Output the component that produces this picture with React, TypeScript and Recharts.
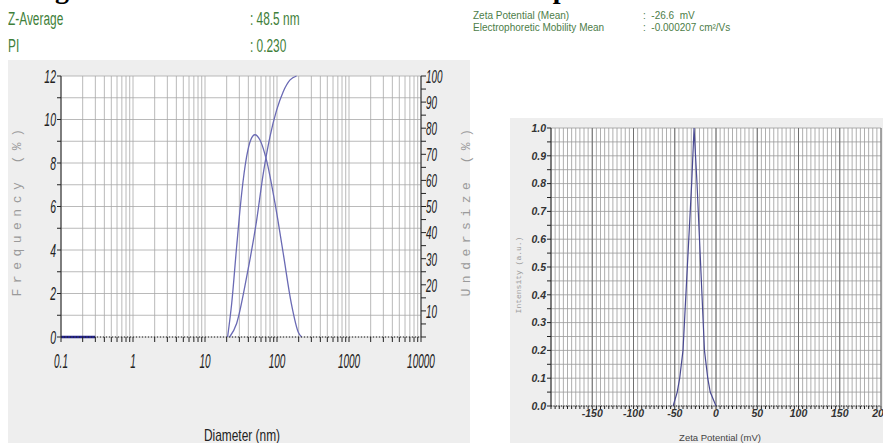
import {
  CartesianGrid,
  Line,
  LineChart,
  ReferenceLine,
  XAxis,
  YAxis,
} from "recharts";

// size distribution (left panel)
const diameterNm = [20.6, 23.5, 27.5, 32.3, 37.9, 43, 49.4, 58, 71.9, 93.8, 122, 158, 200, 220];
const frequencyPct = [0, 1.55, 4.15, 6.6, 8.3, 9.05, 9.3, 9.06, 8.1, 6.15, 3.85, 1.55, 0.18, 0];

const undersizeNm = [22, 27.5, 37.9, 52.2, 64.5, 79.8, 99, 122, 152, 187];
const undersizePct = [0, 5.2, 23, 44.8, 62.7, 76.7, 87, 94, 98.5, 100];

const baselineNm = [0.1, 0.3];
const baselinePct = [0, 0];

const diameterLabels = [0.1, 1, 10, 100, 1000, 10000];
const frequencyLabels = [0, 2, 4, 6, 8, 10, 12];
const undersizeLabels = [10, 20, 30, 40, 50, 60, 70, 80, 90, 100];

// zeta potential (right panel)
const zetaMv = [-52, -47, -44, -40, -33, -29.5, -26.6, -23, -20, -14, -10, -7, 0];
const intensity = [0, 0.05, 0.1, 0.2, 0.6, 0.8, 1.0, 0.8, 0.6, 0.2, 0.1, 0.05, 0];

const zetaLabels = [-150, -100, -50, 0, 50, 100, 150, 200];
const intensityLabels = [0, 0.1, 0.2, 0.3, 0.4, 0.5, 0.6, 0.7, 0.8, 0.9, 1.0];

const diameterTicks = [0.1, 1, 10, 100, 1000]
  .flatMap((d) => [1, 2, 3, 4, 5, 6, 7, 8, 9].map((m) => +(d * m).toPrecision(3)))
  .concat([10000]);
const frequencyTicks = Array.from({ length: 13 }, (_, i) => i);
const undersizeTicks = Array.from({ length: 21 }, (_, i) => i * 5);
const zetaTicks = Array.from({ length: 81 }, (_, i) => -200 + i * 5);
const intensityTicks = Array.from({ length: 21 }, (_, i) => Math.round(i * 5) / 100);

const freqData = diameterNm.map((d, i) => ({ d, v: frequencyPct[i] }));
const underData = undersizeNm.map((d, i) => ({ d, v: undersizePct[i] }));
const baseData = baselineNm.map((d, i) => ({ d, v: baselinePct[i] }));
const zetaData = zetaMv.map((z, i) => ({ z, v: intensity[i] }));

const sans = "'Liberation Sans', Arial, sans-serif";
const green = "#3f7f3a";
const curve = "#6a6ab4";

// condensed tick label, the instrument software uses a very narrow face
function narrowTick(labels: number[], fontSize: number, squeeze: number, dy: string) {
  return (props: any) => {
    const { x, y, payload, textAnchor } = props;
    if (!labels.includes(payload.value)) return <g />;
    return (
      <text
        transform={`translate(${x},${y}) scale(${squeeze},1)`}
        textAnchor={textAnchor}
        dy={dy}
        fill="#222"
        fontSize={fontSize}
        fontFamily={sans}
        fontStyle="italic"
      >
        {payload.value}
      </text>
    );
  };
}

const abs = (left: number, top: number): React.CSSProperties => ({
  position: "absolute",
  left,
  top,
  whiteSpace: "nowrap",
});

const header = (left: number, top: number): React.CSSProperties => ({
  ...abs(left, top),
  fontFamily: sans,
  fontSize: 18,
  color: green,
  transform: "scaleX(0.66)",
  transformOrigin: "left top",
});

export default function App() {
  return (
    <div
      style={{
        position: "absolute",
        left: 0,
        top: 0,
        width: 883,
        height: 443,
        overflow: "hidden",
        background: "#fff",
        fontFamily: sans,
      }}
    >
      <div
        style={{
          ...abs(30, -27),
          fontFamily: "'Liberation Serif', serif",
          fontWeight: "bold",
          fontSize: 28,
          color: "#000",
        }}
      >
        Figure 2: Particle size distribution and zeta potential of the formulation
      </div>

      <div style={header(8, 9)}>Z-Average</div>
      <div style={header(8, 36)}>PI</div>
      <div style={header(250, 9)}>: 48.5 nm</div>
      <div style={header(250, 36)}>: 0.230</div>

      <div style={{ ...abs(473, 10), fontSize: 10, color: "#4d7d48" }}>Zeta Potential (Mean)</div>
      <div style={{ ...abs(473, 22), fontSize: 10, color: "#4d7d48" }}>Electrophoretic Mobility Mean</div>
      <div style={{ ...abs(643, 10), fontSize: 10, color: "#4d7d48" }}>:&nbsp; -26.6&nbsp; mV</div>
      <div style={{ ...abs(643, 22), fontSize: 10, color: "#4d7d48" }}>:&nbsp; -0.000207 cm²/Vs</div>

      {/* left panel: size distribution */}
      <div style={{ position: "absolute", left: 8, top: 60, width: 462, height: 383, background: "#eeeeee" }}>
        <LineChart width={462} height={383} margin={{ top: 16, right: 9, bottom: 76, left: 13 }}>
          <CartesianGrid yAxisId="freq" stroke="#a8a8a8" fill="#ffffff" strokeWidth={0.8} />
          <XAxis
            dataKey="d"
            type="number"
            scale="log"
            domain={[0.1, 10000]}
            allowDataOverflow
            ticks={diameterTicks}
            interval={0}
            height={30}
            tickSize={5}
            tickMargin={12}
            axisLine={{ stroke: "#222", strokeDasharray: "1 2" }}
            tickLine={{ stroke: "#222" }}
            tick={narrowTick(diameterLabels, 20, 0.5, "0.71em")}
          />
          <YAxis
            yAxisId="freq"
            domain={[0, 12]}
            ticks={frequencyTicks}
            interval={0}
            width={40}
            tickSize={4}
            tickMargin={1}
            axisLine={{ stroke: "#222" }}
            tickLine={{ stroke: "#222" }}
            tick={narrowTick(frequencyLabels, 19, 0.55, "0.36em")}
          />
          <YAxis
            yAxisId="under"
            orientation="right"
            domain={[0, 100]}
            ticks={undersizeTicks}
            interval={0}
            width={40}
            tickSize={5}
            tickMargin={0}
            axisLine={{ stroke: "#222" }}
            tickLine={{ stroke: "#222" }}
            tick={narrowTick(undersizeLabels, 19, 0.52, "0.36em")}
          />
          <Line
            data={baseData}
            yAxisId="freq"
            dataKey="v"
            stroke="#23238a"
            strokeWidth={2.5}
            dot={false}
            isAnimationActive={false}
          />
          <Line
            data={freqData}
            yAxisId="freq"
            dataKey="v"
            type="monotone"
            stroke={curve}
            strokeWidth={1.3}
            dot={false}
            isAnimationActive={false}
          />
          <Line
            data={underData}
            yAxisId="under"
            dataKey="v"
            type="monotone"
            stroke={curve}
            strokeWidth={1.3}
            dot={false}
            isAnimationActive={false}
          />
        </LineChart>
      </div>
      <div
        style={{
          ...abs(17, 210),
          transform: "translate(-50%, -50%) rotate(-90deg)",
          fontFamily: "'Liberation Mono', monospace",
          fontSize: 13,
          letterSpacing: 5.5,
          color: "#9a9a9a",
        }}
      >
        Frequency (%)
      </div>
      <div
        style={{
          ...abs(466, 210),
          transform: "translate(-50%, -50%) rotate(-90deg)",
          fontFamily: "'Liberation Mono', monospace",
          fontSize: 13,
          letterSpacing: 5.5,
          color: "#9a9a9a",
        }}
      >
        Undersize (%)
      </div>
      <div
        style={{
          ...abs(242, 436),
          transform: "translate(-50%, -50%) scaleX(0.7)",
          fontFamily: sans,
          fontSize: 17,
          color: "#222",
        }}
      >
        Diameter (nm)
      </div>

      {/* right panel: zeta potential */}
      <div style={{ position: "absolute", left: 510, top: 118, width: 373, height: 325, background: "#eeeeee" }}>
        <LineChart width={373} height={325} margin={{ top: 10, right: 2, bottom: 17, left: 11 }}>
          <CartesianGrid stroke="#9a9a9a" fill="#ffffff" strokeWidth={0.8} />
          {zetaLabels.map((z) => (
            <ReferenceLine key={z} x={z} stroke="#707070" strokeWidth={1} />
          ))}
          <XAxis
            dataKey="z"
            type="number"
            domain={[-200, 200]}
            allowDataOverflow
            ticks={zetaTicks}
            interval={0}
            tickFormatter={(v: number) => (zetaLabels.includes(v) ? String(v) : "")}
            height={20}
            tickSize={3}
            tickMargin={1}
            axisLine={{ stroke: "#222", strokeDasharray: "1 1.5" }}
            tickLine={{ stroke: "#222" }}
            tick={{ fill: "#333", fontSize: 10.5, fontStyle: "italic", fontWeight: "bold" }}
          />
          <YAxis
            domain={[0, 1]}
            ticks={intensityTicks}
            interval={0}
            tickFormatter={(v: number) =>
              intensityLabels.some((l) => Math.abs(l - v) < 1e-6) ? v.toFixed(1) : ""
            }
            width={30}
            tickSize={4}
            tickMargin={1}
            axisLine={{ stroke: "#222" }}
            tickLine={{ stroke: "#222" }}
            tick={{ fill: "#333", fontSize: 10.5, fontStyle: "italic", fontWeight: "bold" }}
          />
          <Line
            data={zetaData}
            dataKey="v"
            stroke="#4a4a92"
            strokeWidth={1.2}
            dot={false}
            isAnimationActive={false}
          />
        </LineChart>
      </div>
      <div
        style={{
          ...abs(518, 275),
          transform: "translate(-50%, -50%) rotate(-90deg)",
          fontFamily: "'Liberation Mono', monospace",
          fontSize: 8,
          letterSpacing: 0,
          color: "#9a9a9a",
        }}
      >
        Intensity (a.u.)
      </div>
      <div
        style={{
          ...abs(720, 437),
          transform: "translate(-50%, -50%)",
          fontSize: 9.5,
          color: "#444",
        }}
      >
        Zeta Potential (mV)
      </div>
    </div>
  );
}
